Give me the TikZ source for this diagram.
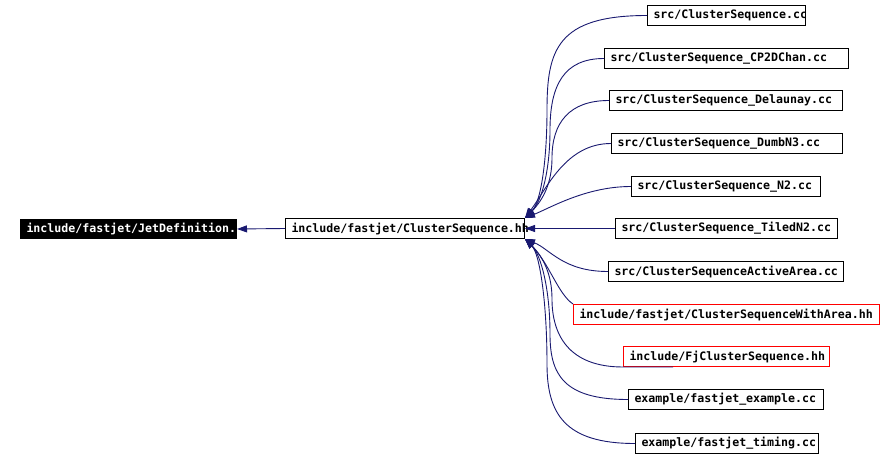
\documentclass[tikz,border=0pt]{standalone}
\usepackage{fontspec}
\setmonofont{DejaVu Sans Mono}
\usetikzlibrary{arrows.meta,calc}
\definecolor{edgeblue}{HTML}{191970}
\newcommand{\fjlabel}[2]{\makebox[#1][l]{#2}}
\tikzset{
  filebox/.style={draw=black, line width=1pt, inner sep=0pt, minimum height=20pt,
    anchor=north west, font=\ttfamily\bfseries\fontsize{11.6}{12}\selectfont},
  redbox/.style={filebox, draw=red},
  rootbox/.style={filebox, fill=black, text=white, minimum height=19pt},
  dep/.style={draw=edgeblue, line width=0.9pt, -{Triangle[length=10pt,width=7pt]}}
}
\begin{document}
\begin{tikzpicture}[x=1pt,y=-1pt]
\useasboundingbox (0,0) rectangle (894,457);
% nodes
\node[rootbox, minimum width=216pt] (jd) at (20,219) {\fjlabel{204pt}{include/fastjet/JetDefinition.}};
\node[filebox, minimum width=239pt] (hh) at (285,218) {\fjlabel{227pt}{include/fastjet/ClusterSequence.hh}};
\node[filebox, minimum width=158pt] (csc) at (647,5) {\fjlabel{146pt}{src/ClusterSequence.cc}};
\node[filebox, minimum width=244pt] (cp2d) at (604,48) {\fjlabel{232pt}{src/ClusterSequence\_CP2DChan.cc}};
\node[filebox, minimum width=233pt] (del) at (609,90) {\fjlabel{221pt}{src/ClusterSequence\_Delaunay.cc}};
\node[filebox, minimum width=231pt] (dumb) at (611,133) {\fjlabel{219pt}{src/ClusterSequence\_DumbN3.cc}};
\node[filebox, minimum width=189pt] (n2) at (631,176) {\fjlabel{177pt}{src/ClusterSequence\_N2.cc}};
\node[filebox, minimum width=222pt] (tiled) at (615,218) {\fjlabel{210pt}{src/ClusterSequence\_TiledN2.cc}};
\node[filebox, minimum width=235pt] (active) at (608,261) {\fjlabel{223pt}{src/ClusterSequenceActiveArea.cc}};
\node[redbox, minimum width=306pt] (wa) at (573,304) {\fjlabel{294pt}{include/fastjet/ClusterSequenceWithArea.hh}};
\node[redbox, minimum width=206pt] (fj) at (623,346) {\fjlabel{194pt}{include/FjClusterSequence.hh}};
\node[filebox, minimum width=195pt] (ex) at (628,389) {\fjlabel{183pt}{example/fastjet\_example.cc}};
\node[filebox, minimum width=183pt] (tim) at (635,433) {\fjlabel{171pt}{example/fastjet\_timing.cc}};
% edges
\draw[dep] (hh.west) -- (jd.east);
\draw[dep] (csc.west) .. controls +(-90,0) and +(0,-60) .. ($(hh.north east)+(22,-108)$)
  .. controls +(0,50) and +(16,-16) .. (hh.north east);
\draw[dep] (cp2d.west) .. controls +(-40,0) and +(0,-45) .. ($(hh.north east)+(25,-88)$)
  .. controls +(0,40) and +(17,-17) .. (hh.north east);
\draw[dep] (del.west) .. controls +(-40,0) and +(0,-35) .. ($(hh.north east)+(27,-60)$)
  .. controls +(0,25) and +(18,-18) .. (hh.north east);
\draw[dep] (dumb.west) .. controls +(-45,0) and +(22,-30) .. (hh.north east);
\draw[dep] (n2.west) .. controls +(-45,0) and +(25,-10) .. (hh.north east);
\draw[dep] (tiled.west) -- (hh.east);
\draw[dep] (active.west) .. controls +(-45,0) and +(25,10) .. (hh.south east);
\draw[dep] (wa.north west) .. controls +(-15,-10) and +(24,24) .. (hh.south east);
\draw[dep] ([xshift=50pt]fj.south west) -- (fj.south west)
  .. controls +(-55,0) and +(0,35) .. ($(hh.south east)+(27,60)$)
  .. controls +(0,-25) and +(18,18) .. (hh.south east);
\draw[dep] (ex.west) .. controls +(-65,0) and +(0,40) .. ($(hh.south east)+(25,95)$)
  .. controls +(0,-45) and +(16,16) .. (hh.south east);
\draw[dep] (tim.west) .. controls +(-70,0) and +(0,50) .. ($(hh.south east)+(22,125)$)
  .. controls +(0,-60) and +(15,15) .. (hh.south east);
\end{tikzpicture}
\end{document}
